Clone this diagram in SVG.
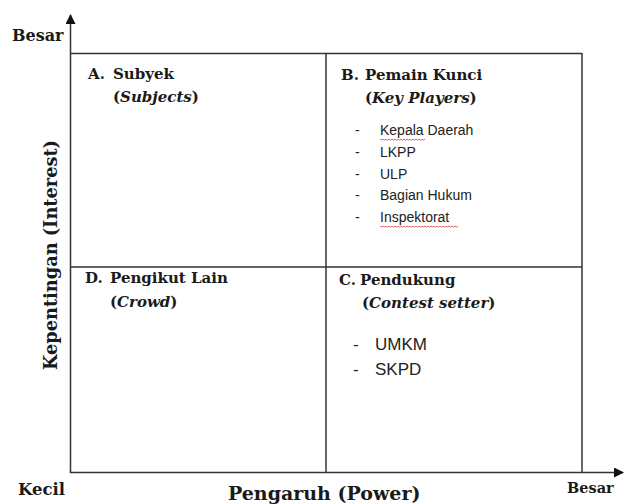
<svg xmlns="http://www.w3.org/2000/svg" width="624" height="504" viewBox="0 0 624 504">
<defs>
<style>
.ln{stroke:#333;stroke-width:1.5;fill:none}
.hd{font-family:"DejaVu Serif","Liberation Serif",serif;font-weight:bold;font-size:15px;fill:#1a1a1a}
.ax{font-family:"DejaVu Serif","Liberation Serif",serif;font-weight:bold;fill:#1a1a1a}
.it{font-style:italic}
.ls{font-family:"Liberation Sans",Arial,sans-serif;font-size:14px;fill:#222}
.lc{font-family:"Liberation Sans",Arial,sans-serif;font-size:17px;fill:#222}
.sq{stroke:#d63a3a;stroke-width:0.8;fill:none}
</style>
<marker id="arr" viewBox="0 0 10 10" refX="9" refY="5" markerWidth="10" markerHeight="10" markerUnits="userSpaceOnUse" orient="auto">
<path d="M0,0 L10,5 L0,10 Z" fill="#111"/>
</marker>
</defs>
<rect width="624" height="504" fill="#fff"/>
<g id="connectors">
<line class="ln" x1="70.5" y1="473" x2="70.5" y2="15" marker-end="url(#arr)"/>
<line class="ln" x1="70" y1="472.5" x2="623" y2="472.5" marker-end="url(#arr)"/>
<line class="ln" x1="70" y1="53.5" x2="582" y2="53.5"/>
<line class="ln" x1="582" y1="53" x2="582" y2="473"/>
<line class="ln" x1="326" y1="53" x2="326" y2="473"/>
<line class="ln" x1="70" y1="267" x2="582" y2="267"/>
</g>
<g id="axis-labels">
<text class="ax" x="12" y="41" font-size="16">Besar</text>
<text class="ax" x="18" y="495" font-size="16.5">Kecil</text>
<text class="ax" x="567" y="493" font-size="14.5">Besar</text>
<text class="ax" x="228" y="500" font-size="19">Pengaruh (Power)</text>
<text class="ax" transform="translate(57,255) rotate(-90)" text-anchor="middle" font-size="18" textLength="230" lengthAdjust="spacingAndGlyphs">Kepentingan (Interest)</text>
</g>
<g id="quadrant-a">
<text class="hd" x="88" y="79">A.</text>
<text class="hd" x="113" y="79">Subyek</text>
<text class="hd" x="113" y="102">(<tspan class="it">Subjects</tspan>)</text>
</g>
<g id="quadrant-b">
<text class="hd" x="341" y="80">B.</text>
<text class="hd" x="365" y="80">Pemain Kunci</text>
<text class="hd" x="365" y="103">(<tspan class="it">Key Players</tspan>)</text>
<text class="ls" x="355" y="135">-</text><text class="ls" x="380" y="135">Kepala Daerah</text>
<text class="ls" x="355" y="157">-</text><text class="ls" x="380" y="157">LKPP</text>
<text class="ls" x="355" y="179">-</text><text class="ls" x="380" y="179">ULP</text>
<text class="ls" x="355" y="200">-</text><text class="ls" x="380" y="200">Bagian Hukum</text>
<text class="ls" x="355" y="222">-</text><text class="ls" x="380" y="222">Inspektorat</text>
<path class="sq" d="M380,139 l1.5,1.2 l1.5,-1.2 l1.5,1.2 l1.5,-1.2 l1.5,1.2 l1.5,-1.2 l1.5,1.2 l1.5,-1.2 l1.5,1.2 l1.5,-1.2 l1.5,1.2 l1.5,-1.2 l1.5,1.2 l1.5,-1.2 l1.5,1.2 l1.5,-1.2 l1.5,1.2 l1.5,-1.2 l1.5,1.2 l1.5,-1.2 l1.5,1.2 l1.5,-1.2 l1.5,1.2 l1.5,-1.2 l1.5,1.2 l1.5,-1.2 l1.5,1.2 l1.5,-1.2 l1.5,1.2 l1.5,-1.2"/>
<path class="sq" d="M380,226 l1.5,1.2 l1.5,-1.2 l1.5,1.2 l1.5,-1.2 l1.5,1.2 l1.5,-1.2 l1.5,1.2 l1.5,-1.2 l1.5,1.2 l1.5,-1.2 l1.5,1.2 l1.5,-1.2 l1.5,1.2 l1.5,-1.2 l1.5,1.2 l1.5,-1.2 l1.5,1.2 l1.5,-1.2 l1.5,1.2 l1.5,-1.2 l1.5,1.2 l1.5,-1.2 l1.5,1.2 l1.5,-1.2 l1.5,1.2 l1.5,-1.2 l1.5,1.2 l1.5,-1.2 l1.5,1.2 l1.5,-1.2 l1.5,1.2 l1.5,-1.2 l1.5,1.2 l1.5,-1.2 l1.5,1.2 l1.5,-1.2 l1.5,1.2 l1.5,-1.2 l1.5,1.2 l1.5,-1.2 l1.5,1.2 l1.5,-1.2 l1.5,1.2 l1.5,-1.2 l1.5,1.2 l1.5,-1.2 l1.5,1.2 l1.5,-1.2 l1.5,1.2 l1.5,-1.2 l1.5,1.2 l1.5,-1.2"/>
</g>
<g id="quadrant-d">
<text class="hd" x="85" y="283">D.</text>
<text class="hd" x="110" y="283">Pengikut Lain</text>
<text class="hd" x="110" y="307">(<tspan class="it">Crowd</tspan>)</text>
</g>
<g id="quadrant-c">
<text class="hd" x="339" y="285">C.</text>
<text class="hd" x="360" y="285">Pendukung</text>
<text class="hd" x="362" y="308">(<tspan class="it">Contest setter</tspan>)</text>
<text class="lc" x="353" y="350">-</text><text class="lc" x="375" y="350">UMKM</text>
<text class="lc" x="353" y="375">-</text><text class="lc" x="375" y="375">SKPD</text>
</g>
</svg>
